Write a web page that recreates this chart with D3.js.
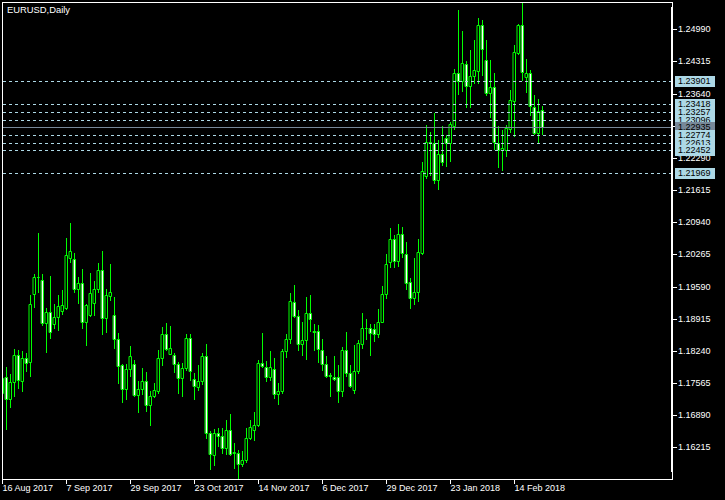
<!DOCTYPE html>
<html><head><meta charset="utf-8">
<script src="https://cdn.jsdelivr.net/npm/d3@7"></script>
<style>body{margin:0;background:#000}svg{display:block}</style>
</head><body>
<script>
const title = "EURUSD,Daily";
const tickIndex = [0,16,32,48,64,80,96,112,128];
const tickLabels = ["16 Aug 2017","7 Sep 2017","29 Sep 2017","23 Oct 2017","14 Nov 2017","6 Dec 2017","29 Dec 2017","23 Jan 2018","14 Feb 2018"];
const priceTicks = [1.24990,1.24315,1.23640,1.22965,1.22290,1.21615,1.20940,1.20265,1.19590,1.18915,1.18240,1.17565,1.16890,1.16215];
const levels = [1.23901,1.23418,1.23257,1.23096,1.22774,1.22613,1.22452,1.21969];

const open = [
1.17352,1.17682,1.17220,1.17589,1.18150,1.17604,1.18081,1.17997,1.19425,1.19782,
1.19719,1.18816,1.19047,1.18807,1.18942,1.19080,1.19143,1.20193,1.20160,1.19530,
1.19656,1.18849,1.18990,1.19236,1.19536,1.19929,1.18921,1.19395,1.18984,1.18480,
1.17940,1.17442,1.17850,1.17961,1.17316,1.17430,1.17604,1.17106,1.17295,1.17400,
1.18087,1.18591,1.18177,1.18144,1.17961,1.17661,1.17871,1.18507,1.17656,1.17484,
1.17598,1.18123,1.16506,1.16050,1.16506,1.16443,1.16191,1.16569,1.16098,1.16092,
1.15855,1.15939,1.16401,1.16569,1.16680,1.17976,1.17904,1.17694,1.17850,1.17325,
1.17395,1.18234,1.18480,1.19257,1.18965,1.18377,1.18461,1.19026,1.18654,1.18654,
1.18249,1.17955,1.17724,1.17688,1.17682,1.17400,1.18255,1.17766,1.17426,1.17808,
1.18392,1.18717,1.18728,1.18707,1.18585,1.18853,1.19425,1.20097,1.20580,1.20130,
1.20685,1.20271,1.19677,1.19357,1.19467,1.20298,1.21915,1.22629,1.22596,1.21825,
1.22371,1.22701,1.22608,1.22959,1.24066,1.23910,1.24255,1.23805,1.24015,1.24120,
1.25080,1.24345,1.23658,1.23772,1.22608,1.22455,1.22455,1.22896,1.23490,1.24486,
1.25080,1.23994,1.24066,1.23364,1.22818,1.23295];
const high = [
1.17793,1.17904,1.17751,1.18276,1.18255,1.18234,1.18198,1.19410,1.19845,1.20706,
1.19845,1.19131,1.19809,1.19215,1.19410,1.19509,1.20601,1.20922,1.20286,1.19788,
1.19956,1.19227,1.19866,1.19704,1.20088,1.20335,1.19536,1.20061,1.19368,1.18618,
1.17961,1.17961,1.18345,1.18045,1.17610,1.17883,1.17787,1.17400,1.17568,1.18255,
1.18744,1.18816,1.18759,1.18186,1.17997,1.17988,1.18601,1.18591,1.17766,1.17940,
1.18198,1.18375,1.16554,1.16602,1.16611,1.16623,1.16785,1.16905,1.16302,1.16155,
1.16140,1.16617,1.16785,1.16959,1.18045,1.18618,1.18030,1.18234,1.18087,1.17573,
1.18282,1.18591,1.19446,1.19620,1.19095,1.18849,1.19368,1.19410,1.18801,1.18780,
1.18492,1.18140,1.17766,1.18129,1.17940,1.18318,1.18633,1.17950,1.18360,1.18476,
1.19026,1.18906,1.18795,1.18801,1.19116,1.19599,1.20271,1.20813,1.20670,1.20901,
1.20838,1.20519,1.19761,1.20187,1.20580,1.22209,1.22980,1.22827,1.23226,1.22665,
1.22959,1.22770,1.23049,1.24156,1.25395,1.24954,1.24324,1.24555,1.24765,1.25233,
1.25185,1.24765,1.24345,1.24066,1.22959,1.22875,1.22980,1.23715,1.24660,1.25101,
1.25548,1.24360,1.24135,1.23610,1.23526,1.23379];
const low = [
1.17247,1.16602,1.17064,1.17289,1.17451,1.17400,1.17814,1.17715,1.19164,1.19467,
1.18780,1.18219,1.18501,1.18711,1.18681,1.19017,1.19116,1.20109,1.19479,1.19248,
1.18723,1.18360,1.18980,1.18990,1.19479,1.18597,1.18639,1.19305,1.18303,1.17568,
1.17169,1.17220,1.17715,1.17295,1.16953,1.17331,1.16980,1.16680,1.17274,1.17346,
1.17940,1.18255,1.18171,1.17799,1.17346,1.17295,1.17835,1.17619,1.17237,1.17415,
1.17541,1.16401,1.15750,1.15840,1.16245,1.16086,1.16077,1.16050,1.15787,1.15546,
1.15819,1.15909,1.16386,1.16365,1.16659,1.17892,1.17604,1.17625,1.17258,1.17121,
1.17346,1.18114,1.18396,1.18954,1.18265,1.18160,1.18066,1.18654,1.18265,1.18009,
1.17835,1.17694,1.17293,1.17625,1.17169,1.17293,1.17709,1.17472,1.17358,1.17766,
1.18291,1.18480,1.18150,1.18448,1.18528,1.18847,1.19353,1.20004,1.20004,1.20025,
1.20202,1.19546,1.19143,1.19221,1.19288,1.20271,1.21873,1.21930,1.21768,1.21636,
1.22140,1.22119,1.22224,1.22896,1.23631,1.23700,1.23364,1.23352,1.23868,1.23856,
1.24030,1.23610,1.23142,1.22470,1.22104,1.22035,1.22335,1.22839,1.22749,1.24471,
1.23925,1.23679,1.23190,1.22785,1.22596,1.22791];
const close = [
1.17667,1.17220,1.17583,1.18150,1.17619,1.18081,1.17988,1.19215,1.19782,1.19788,
1.18816,1.19047,1.18627,1.18942,1.19180,1.19194,1.20244,1.20328,1.19530,1.19656,
1.18849,1.19200,1.19446,1.19530,1.19929,1.18921,1.19410,1.19473,1.18480,1.17925,
1.17442,1.17850,1.18129,1.17316,1.17430,1.17604,1.17106,1.17282,1.17409,1.18087,
1.18591,1.18282,1.18297,1.17955,1.17661,1.17871,1.18507,1.17808,1.17499,1.17598,
1.18123,1.16506,1.16071,1.16506,1.16455,1.16191,1.16569,1.16065,1.16107,1.15855,
1.15939,1.16401,1.16638,1.16680,1.17982,1.17913,1.17694,1.17892,1.17325,1.17395,
1.18234,1.18480,1.19278,1.18975,1.18377,1.18461,1.19026,1.18916,1.18627,1.18270,
1.17955,1.17720,1.17720,1.17656,1.17400,1.18255,1.17766,1.17499,1.17808,1.18396,
1.18711,1.18728,1.18623,1.18585,1.18853,1.19425,1.20055,1.20580,1.20130,1.20685,
1.20298,1.19668,1.19357,1.19467,1.20307,1.22014,1.22629,1.22596,1.21825,1.22371,
1.22209,1.22608,1.22995,1.24066,1.23910,1.24276,1.23805,1.24015,1.24135,1.25080,
1.24570,1.23658,1.23772,1.22629,1.22455,1.22491,1.22923,1.23505,1.24507,1.25080,
1.24099,1.24066,1.23379,1.22818,1.23274,1.22935];

const W = 725, H = 500;
const FONT = '"Liberation Sans", Arial, sans-serif';
const GREEN = '#00ff00';
const svg = d3.select('body').append('svg').attr('width', W).attr('height', H);
svg.append('rect').attr('width', W).attr('height', H).attr('fill', '#000');

const y = d3.scaleLinear().domain([1.16215, 1.24990]).range([447.3, 29.3]).interpolate(d3.interpolateRound);
const x = d3.scaleLinear().domain([0, 135]).range([2, 542]).interpolate(d3.interpolateRound);

svg.append('defs').append('clipPath').attr('id', 'clip')
  .append('rect').attr('x', 3).attr('y', 3).attr('width', 668).attr('height', 476);

const bars = d3.range(open.length).map(i => ({i, o: open[i], h: high[i], l: low[i], c: close[i]}));
const plot = svg.append('g').attr('clip-path', 'url(#clip)');

plot.selectAll('line.wick').data(bars).join('line').attr('class', 'wick')
  .attr('x1', d => x(d.i) + 0.5).attr('x2', d => x(d.i) + 0.5)
  .attr('y1', d => y(d.h)).attr('y2', d => y(d.l) + 1)
  .attr('stroke', GREEN).attr('stroke-width', 1);

plot.selectAll('path.body').data(bars).join('path').attr('class', 'body')
  .attr('d', d => {
    const cx = x(d.i);
    const yt = y(Math.max(d.o, d.c)), yb = y(Math.min(d.o, d.c));
    return `M${cx - 0.5},${yt + 0.5}h2v${yb - yt}h-2Z`;
  })
  .attr('fill', d => d.c > d.o ? '#000' : '#fff')
  .attr('stroke', GREEN).attr('stroke-width', 1).attr('stroke-linecap', 'square');

// horizontal level lines
plot.selectAll('line.lvl').data(levels).join('line').attr('class', 'lvl')
  .attr('x1', 3).attr('x2', 671).attr('y1', d => y(d) + 0.5).attr('y2', d => y(d) + 0.5)
  .attr('stroke', '#add8e6').attr('stroke-dasharray', '3,3');
const bid = close[close.length - 1];
plot.append('line').attr('x1', 3).attr('x2', 671).attr('y1', y(bid) + 0.5).attr('y2', y(bid) + 0.5)
  .attr('stroke', '#778899');

// border
svg.append('rect').attr('x', 2.5).attr('y', 2.5).attr('width', 670).attr('height', 477)
  .attr('fill', 'none').attr('stroke', '#fff');
svg.append('rect').attr('x', 671).attr('y', 7).attr('width', 2).attr('height', 465).attr('fill', '#fff');

// price axis
const yAxis = d3.axisRight(y).tickValues(priceTicks).tickSize(4).tickPadding(1)
  .tickFormat(d => d.toFixed(5));
const gy = svg.append('g').attr('transform', 'translate(673,0)').call(yAxis);
gy.select('.domain').remove();
gy.selectAll('line').attr('stroke', '#fff');
gy.selectAll('text').attr('fill', '#fff').style('font-family', FONT).style('font-size', '9px');

// time axis
const xAxis = d3.axisBottom(x).tickValues(tickIndex).tickSize(5).tickPadding(1)
  .tickFormat((d, k) => tickLabels[k]);
const gx = svg.append('g').attr('transform', 'translate(0,479)').call(xAxis);
gx.select('.domain').remove();
gx.selectAll('line').attr('stroke', '#fff');
gx.selectAll('text').attr('fill', '#fff').attr('text-anchor', 'start').attr('x', 0)
  .style('font-family', FONT).style('font-size', '9px');

// level labels
const labelData = levels.concat([bid]).sort((a, b) => b - a);
labelData.forEach(v => {
  const isBid = v === bid;
  const yy = y(v);
  svg.append('rect').attr('x', 675).attr('y', yy - 5).attr('width', 40).attr('height', 11)
    .attr('fill', isBid ? '#778899' : '#add8e6');
  svg.append('text').attr('x', 678).attr('y', yy + 0.5).attr('dy', '0.32em')
    .attr('fill', '#000').style('font-family', FONT).style('font-size', '9px')
    .text(v.toFixed(5));
});

// title
svg.append('text').attr('x', 7).attr('y', 13).attr('fill', '#fff')
  .style('font-family', FONT).style('font-size', '9.4px').text(title);
</script>
</body></html>
